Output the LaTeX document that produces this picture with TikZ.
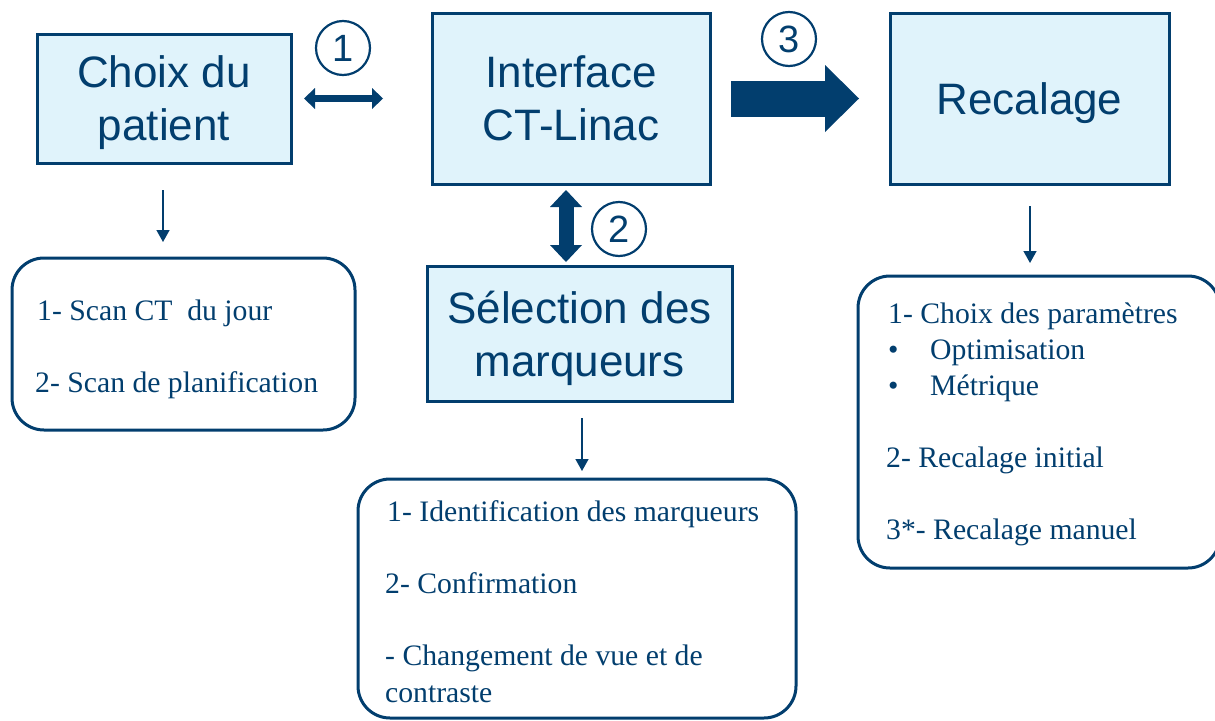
\documentclass[tikz,border=0pt]{standalone}
\usepackage{fontspec}
\setmainfont{Liberation Serif}
\newfontfamily\sansf{Liberation Sans}
\usetikzlibrary{arrows.meta,calc}
\definecolor{navy}{RGB}{2,62,110}
\definecolor{paleblue}{RGB}{224,243,251}

\begin{document}
\begin{tikzpicture}[x=1pt,y=-1pt,
  bigbox/.style={draw=navy,fill=paleblue,line width=3pt,inner sep=0pt,outer sep=0pt,
    anchor=north west,text=navy,font=\sansf\fontsize{44}{53}\selectfont,align=center,
    text depth=0pt},
  listbox/.style={draw=navy,line width=3pt,rounded corners=32pt,inner sep=0pt,outer sep=0pt,
    anchor=north west},
  item/.style={anchor=base west,inner sep=0pt,text=navy,font=\fontsize{29.7}{36}\selectfont},
  numlabel/.style={circle,draw=navy,fill=white,line width=2.2pt,minimum size=54pt,inner sep=0pt,
    text=navy,font=\sansf\fontsize{38}{38}\selectfont},
  thinarrow/.style={draw=navy,line width=1.5pt,-{Triangle[width=13pt,length=12pt]}},
  hdouble/.style={draw=navy,line width=7pt,
    {Triangle[width=21pt,length=11pt,line width=0pt]}-{Triangle[width=21pt,length=11pt,line width=0pt]}},
  vdouble/.style={draw=navy,line width=15pt,
    {Triangle[width=32pt,length=17pt,line width=0pt]}-{Triangle[width=32pt,length=17pt,line width=0pt]}},
  blockarrow/.style={draw=navy,line width=36pt,-{Triangle[width=67pt,length=34pt,line width=0pt]}}
]
\useasboundingbox (0,0) rectangle (1215,720);

% main steps
\node[bigbox,minimum width=254pt,minimum height=129pt] (choix) at (37,34) {Choix du\\patient};
\node[bigbox,minimum width=278pt,minimum height=171pt] (inter) at (432,13) {Interface\\CT-Linac};
\node[bigbox,minimum width=279pt,minimum height=171pt] (recal) at (890,13) {Recalage};
\node[bigbox,minimum width=305pt,minimum height=135pt] (sel) at (427,266) {S\'election des\\marqueurs};

% detail boxes
\node[listbox,minimum width=343pt,minimum height=172pt] (list1) at (12,258) {};
\node[listbox,minimum width=438pt,minimum height=239pt] (list2) at (358,479) {};
\node[listbox,minimum width=362pt,minimum height=292pt] (list3) at (858,276) {};

% detail texts
\node[item] (a1) at (37,320) {1- Scan CT\ \ du jour};
\node[item] (a2) at (35,392) {2- Scan de planification};

\node[item] (b1) at (387,521) {1- Identification\ des\ marqueurs};
\node[item] (b2) at (385,593) {2- Confirmation};
\node[item] (b3) at (385,665) {- Changement\ de vue et de};
\node[item] (b4) at (385,702) {contraste};

\node[item] (c1) at (888,323) {1- Choix des param\`etres};
\node[item] (c2) at (888,359) {•};
\node[item] (c3) at (930,359) {Optimisation};
\node[item] (c4) at (888,395) {•};
\node[item] (c5) at (930,395) {M\'etrique};
\node[item] (c6) at (886,467) {2- Recalage initial};
\node[item] (c7) at (886,539) {3*- Recalage manuel};

% links between steps
\draw[hdouble] ($(choix.east)+(13,0)$) -- ($(inter.west)+(-49,0)$);
\draw[vdouble] ($(inter.south)+(-5,6)$) -- ($(sel.north)+(-13.5,-4)$);
\draw[blockarrow] ($(inter.east)+(21,0)$) -- ($(recal.west)+(-31,0)$);

% step numbers
\node[numlabel] (n1) at (343,48) {1};
\node[numlabel] (n2) at (619,229) {2};
\node[numlabel] (n3) at (789,39) {3};

% from each step to its details
\draw[thinarrow] ($(choix.south)+(-1,27)$) -- ($(choix.south |- list1.north)+(-1,-16)$);
\draw[thinarrow] ($(sel.south)+(2.5,17)$) -- ($(sel.south |- list2.north)+(2.5,-8)$);
\draw[thinarrow] ($(recal.south)+(0.5,22)$) -- ($(recal.south |- list3.north)+(0.5,-13)$);
\end{tikzpicture}
\end{document}
